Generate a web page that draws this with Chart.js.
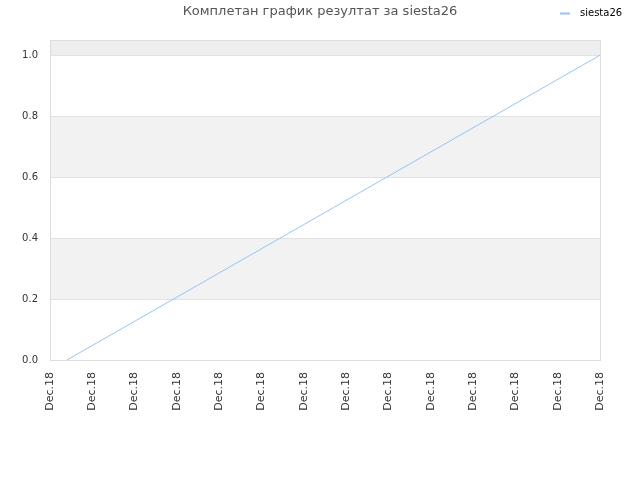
<!DOCTYPE html>
<html>
<head>
<meta charset="utf-8">
<script src="https://cdn.jsdelivr.net/npm/chart.js@4/dist/chart.umd.min.js"></script>
<style>
  html, body { margin: 0; padding: 0; background: #fff; }
  #wrap { width: 640px; height: 480px; position: relative; }
</style>
</head>
<body>
<div id="wrap"><canvas id="resultChart" width="640" height="480"></canvas></div>
<script>
// Données
const chartTitle = "Комплетан график резултат за siesta26";
const seriesName = "siesta26";
const xLabels = ["Dec.18", "Dec.18", "Dec.18", "Dec.18", "Dec.18", "Dec.18", "Dec.18",
                 "Dec.18", "Dec.18", "Dec.18", "Dec.18", "Dec.18", "Dec.18", "Dec.18"];
const xValues = [0.4, 13];
const yValues = [0, 1];
const yTicks = [0, 0.2, 0.4, 0.6, 0.8, 1.0];
const yBands = [[0.2, 0.4], [0.6, 0.8], [1.0, 1.05]];

// Bandes grises + cadre
const bandsPlugin = {
    id: "bands",
    beforeDraw(chart) {
        const { ctx, chartArea: a, scales: { y } } = chart;
        ctx.save();
        yBands.forEach(([lo, hi]) => {
            const top = y.getPixelForValue(hi), bot = y.getPixelForValue(lo);
            ctx.fillStyle = hi > 1 ? "#eeeeee" : "#f2f2f2";
            ctx.fillRect(a.left, top, a.right - a.left, bot - top);
        });
        ctx.restore();
    },
    afterDatasetsDraw(chart) {
        const { ctx, chartArea: a } = chart;
        ctx.save();
        ctx.strokeStyle = "#dddddd";
        ctx.lineWidth = 1;
        ctx.strokeRect(a.left + 0.5, a.top + 0.5, a.right - a.left, a.bottom - a.top);
        ctx.restore();
    }
};

// Titre et légende dessinés à la main
const headerPlugin = {
    id: "header",
    afterDraw(chart) {
        const { ctx } = chart;
        const ds = chart.data.datasets[0];
        ctx.save();
        ctx.fillStyle = "#555555";
        ctx.font = "13px 'DejaVu Sans'";
        ctx.textAlign = "center";
        ctx.textBaseline = "middle";
        ctx.fillText(chartTitle, 320, 12);
        ctx.strokeStyle = ds.borderColor;
        ctx.lineWidth = 2;
        ctx.beginPath();
        ctx.moveTo(560, 13.5);
        ctx.lineTo(570, 13.5);
        ctx.stroke();
        ctx.fillStyle = "#000000";
        ctx.font = "10px 'DejaVu Sans'";
        ctx.textAlign = "left";
        ctx.fillText(ds.label, 580, 13);
        ctx.restore();
    }
};

const ctx = document.getElementById("resultChart").getContext("2d");
const chart = new Chart(ctx, {
    type: "line",
    data: {
        datasets: [{
            label: seriesName,
            data: xValues.map((x, i) => ({ x: x, y: yValues[i] })),
            borderColor: "#92c5fc",
            borderWidth: 1,
            pointRadius: 0,
            fill: false,
            tension: 0
        }]
    },
    options: {
        responsive: false,
        animation: false,
        layout: { padding: { top: 40, right: 40, left: 0, bottom: 0 } },
        plugins: { legend: { display: false }, title: { display: false }, tooltip: { enabled: false } },
        scales: {
            x: {
                type: "linear",
                min: 0,
                max: xLabels.length - 1,
                afterFit(s) { s.height = 120; },
                afterBuildTicks(s) { s.ticks = xLabels.map((_, i) => ({ value: i })); },
                ticks: {
                    minRotation: 90,
                    maxRotation: 90,
                    autoSkip: false,
                    color: "#333333",
                    font: { family: "DejaVu Sans", size: 11 },
                    padding: 12,
                    callback: (v) => xLabels[v]
                },
                grid: { display: false, drawTicks: false },
                border: { display: false }
            },
            y: {
                min: 0,
                max: 1.05,
                afterFit(s) { s.width = 50; },
                afterBuildTicks(s) { s.ticks = yTicks.map(v => ({ value: v })); },
                ticks: {
                    color: "#333333",
                    font: { family: "DejaVu Sans", size: 10 },
                    padding: 12,
                    callback: (v) => v.toFixed(1)
                },
                grid: { color: "#e2e2e2", drawTicks: false },
                border: { display: false }
            }
        }
    },
    plugins: [bandsPlugin, headerPlugin]
});
</script>
</body>
</html>
